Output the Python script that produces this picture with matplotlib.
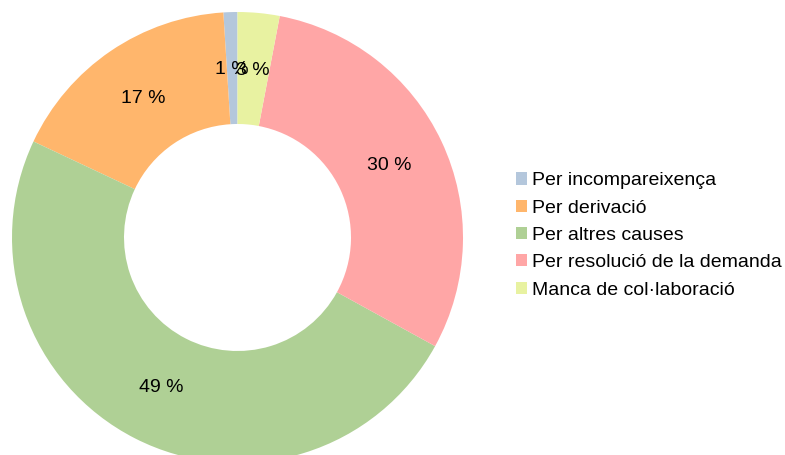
import matplotlib
matplotlib.use('Agg')
import matplotlib.pyplot as plt

plt.rcParams['font.family'] = ['Liberation Sans', 'DejaVu Sans']

# dades
categories = ['Per incompareixença', 'Per derivació', 'Per altres causes',
              'Per resolució de la demanda', 'Manca de col·laboració']
values = [1, 17, 49, 30, 3]
colors = ['#b4c7dc', '#ffb66c', '#afd095', '#ffa6a6', '#e8f2a1']

W, H = 785, 455
fig = plt.figure(figsize=(W / 100, H / 100), dpi=100)
ax = fig.add_axes([0, 0, 1, 1])

R = 225.5
cx, cy = 237.5, H - 237.5

wedges, texts, autotexts = ax.pie(
    values, colors=colors, startangle=90, counterclock=True,
    radius=R, center=(cx, cy),
    wedgeprops=dict(width=112, linewidth=0),
    autopct=lambda p: '%d %%' % round(p), pctdistance=0.745,
    textprops=dict(fontsize=14, color='black'))
for w in wedges:
    w.set_clip_on(False)

ax.set_xlim(0, W)
ax.set_ylim(0, H)
ax.set_aspect('equal')
ax.axis('off')

leg = fig.legend(wedges, categories, loc='center left',
                 bbox_to_anchor=(516 / W, 1 - 235.5 / H),
                 frameon=False, fontsize=14,
                 handlelength=0.58, handleheight=0.58,
                 handletextpad=0.25, labelspacing=0.53,
                 borderpad=0, borderaxespad=0)

fig.savefig('out.png', dpi=100)
